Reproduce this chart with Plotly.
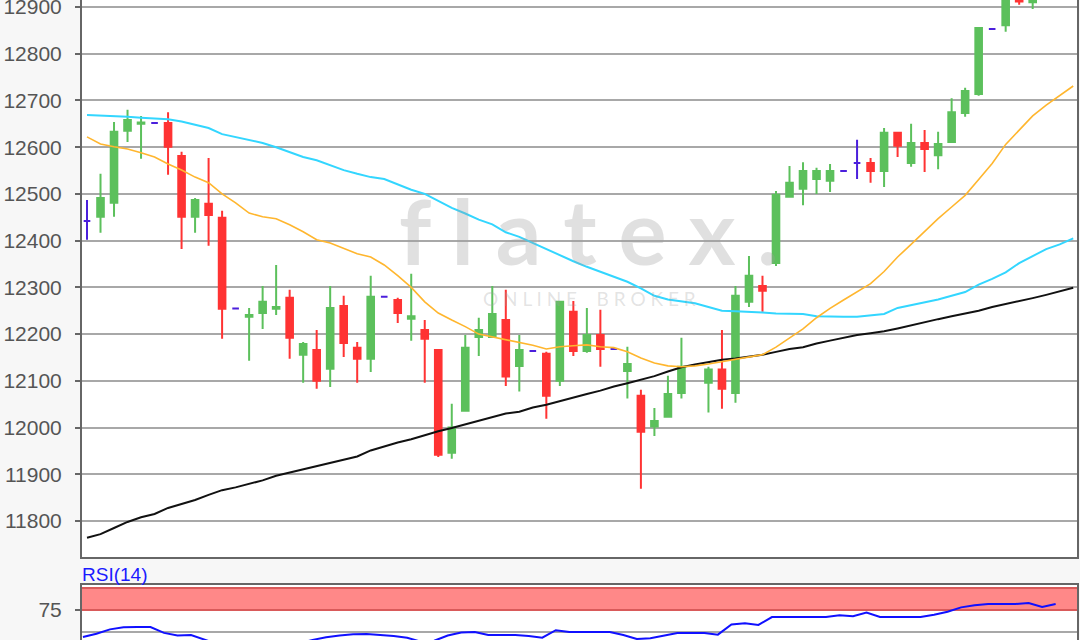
import plotly.graph_objects as go

# ---------------- data ----------------
candle_idx = list(range(71))
opens = [12442, 12451, 12481, 12635, 12650, 12652, 12652, 12581, 12451, 12479,
         12449, 12255, 12237, 12245, 12254, 12278, 12156, 12166, 12126, 12260,
         12171, 12147, 12280, 12273, 12233, 12209, 12166, 11946, 12036, 12194,
         12194, 12230, 12132, 12164, 12158, 12100, 12248, 12164, 12198, 12168,
         12121, 12068, 12002, 12023, 12074, 12134, 12096, 12124, 12074, 12269,
         12303, 12352, 12494, 12511, 12532, 12528, 12549, 12566, 12566, 12549,
         12631, 12566, 12609, 12583, 12611, 12673, 12714, 12853, 12861, 12935,
         12910]
highs = [12487, 12543, 12654, 12680, 12667, 12652, 12675, 12590, 12491, 12577,
         12464, 12255, 12256, 12303, 12348, 12295, 12183, 12209, 12303, 12282,
         12183, 12325, 12280, 12278, 12329, 12230, 12168, 12051, 12198, 12235,
         12303, 12295, 12198, 12164, 12162, 12269, 12271, 12256, 12252, 12168,
         12173, 12081, 12042, 12111, 12192, 12134, 12130, 12209, 12303, 12367,
         12325, 12506, 12560, 12568, 12556, 12564, 12549, 12616, 12577, 12641,
         12631, 12650, 12637, 12633, 12705, 12727, 12855, 12853, 12950, 12945,
         12940]
lows = [12402, 12417, 12451, 12611, 12575, 12652, 12541, 12382, 12417, 12389,
        12190, 12255, 12143, 12211, 12241, 12147, 12096, 12083, 12087, 12151,
        12096, 12119, 12280, 12224, 12186, 12096, 11937, 11933, 12036, 12153,
        12194, 12089, 12077, 12164, 12019, 12089, 12153, 12160, 12130, 12168,
        12062, 11869, 11982, 12023, 12062, 12134, 12032, 12040, 12053, 12258,
        12248, 12346, 12494, 12476, 12500, 12504, 12549, 12532, 12524, 12515,
        12579, 12558, 12547, 12553, 12609, 12665, 12710, 12853, 12847, 12905,
        12896]
closes = [12442, 12491, 12633, 12658, 12653, 12652, 12601, 12451, 12487, 12455,
          12254, 12255, 12241, 12269, 12258, 12192, 12179, 12100, 12256, 12181,
          12147, 12280, 12280, 12245, 12238, 12190, 11942, 12000, 12171, 12209,
          12243, 12109, 12166, 12164, 12068, 12269, 12164, 12198, 12168, 12168,
          12136, 11991, 12014, 12072, 12130, 12134, 12124, 12083, 12282, 12325,
          12293, 12498, 12524, 12549, 12549, 12549, 12549, 12566, 12549, 12631,
          12603, 12609, 12596, 12607, 12675, 12720, 12855, 12853, 12935, 12912,
          12925]

ma_idx = list(range(74))
ma_short = [12622, 12607, 12601, 12596, 12588, 12579, 12564, 12551, 12536, 12524,
            12500, 12481, 12459, 12451, 12447, 12434, 12419, 12402, 12395, 12384,
            12372, 12365, 12348, 12325, 12300, 12269, 12245, 12230, 12216, 12200,
            12194, 12188, 12182, 12176, 12168, 12173, 12175, 12177, 12173, 12171,
            12162, 12149, 12138, 12132, 12130, 12132, 12136, 12141, 12147, 12151,
            12156, 12172, 12192, 12211, 12235, 12255, 12273, 12290, 12308, 12334,
            12365, 12392, 12420, 12447, 12472, 12497, 12531, 12565, 12606, 12637,
            12667, 12690, 12710, 12731]
ma_mid = [12669, 12668, 12666, 12665, 12663, 12662, 12660, 12655, 12648, 12641,
          12628, 12622, 12615, 12609, 12600, 12590, 12579, 12572, 12562, 12551,
          12543, 12536, 12532, 12520, 12509, 12500, 12485, 12470, 12458, 12445,
          12435, 12418, 12408, 12395, 12382, 12368, 12356, 12344, 12333, 12322,
          12312, 12298, 12282, 12274, 12270, 12266, 12258, 12250, 12249, 12248,
          12246, 12244, 12243, 12243, 12238, 12237, 12237, 12237, 12240, 12243,
          12256, 12262, 12268, 12274, 12282, 12290, 12306, 12318, 12332, 12352,
          12367, 12382, 12392, 12405]
ma_long = [11764, 11772, 11785, 11798, 11808, 11815, 11828, 11837, 11845, 11856,
           11866, 11872, 11880, 11887, 11897, 11904, 11910, 11918, 11925, 11931,
           11938, 11951, 11960, 11968, 11975, 11984, 11992, 11999, 12007, 12015,
           12022, 12030, 12034, 12043, 12049, 12057, 12065, 12072, 12079, 12088,
           12095, 12103, 12110, 12120, 12129, 12135, 12140, 12145, 12148, 12152,
           12156, 12162, 12168, 12172, 12180, 12186, 12192, 12198, 12202, 12206,
           12212, 12219, 12225, 12232, 12238, 12244, 12250, 12258, 12264, 12270,
           12277, 12284, 12292, 12299]

rsi_idx = list(range(73))
rsi = [44.3, 48, 53, 55.5, 55.7, 55.7, 49, 46, 46.6, 42,
       36, 34, 35, 37, 38, 35, 37, 41, 44, 46,
       47.5, 47.7, 47, 45.5, 43.5, 39, 40, 46, 49.5, 50,
       46.6, 46.6, 46.6, 45.5, 43.5, 52, 50, 50, 50, 50,
       46.6, 42, 43, 46, 48.9, 48.9, 48.9, 47, 58.5, 60,
       58, 67, 67, 67, 67, 67, 69, 68, 72, 67,
       67, 67, 67, 69.5, 73, 78, 80.5, 81.8, 81.8, 81.8,
       83, 78.4, 81.8]

price_ticks = [11800, 11900, 12000, 12100, 12200, 12300, 12400, 12500, 12600, 12700, 12800, 12900]
rsi_ticks = [75]
rsi_band = (75, 100)
rsi_mid = 50

# ---------------- styling ----------------
GREEN = "#5cc05c"
RED = "#ff3333"
DOJI = "#4b1fdc"
AXIS = "#666666"
GRID = "#a8a8a8"
FONT = "Liberation Sans, Arial, sans-serif"

up = [i for i in candle_idx if closes[i] > opens[i]]
down = [i for i in candle_idx if closes[i] < opens[i]]
flat = [i for i in candle_idx if closes[i] == opens[i]]


def pick(lst, ids):
    return [lst[i] for i in ids]


fig = go.Figure()

# watermark
fig.add_annotation(text="f l a t e x .", xref="paper", yref="paper", x=0.51, y=0.64,
                   showarrow=False, font=dict(family="Lato, sans-serif", size=90,
                                              color="rgba(160,160,160,0.32)", weight="bold"))
fig.add_annotation(text="O N L I N E    B R O K E R", xref="paper", yref="paper", x=0.51, y=0.534,
                   showarrow=False, font=dict(family="Lato, sans-serif", size=19,
                                              color="rgba(160,160,160,0.30)"))


def candles(ids, inc_col, dec_col):
    return go.Candlestick(
        x=ids, open=pick(opens, ids), high=pick(highs, ids), low=pick(lows, ids), close=pick(closes, ids),
        increasing=dict(line=dict(color=inc_col, width=2), fillcolor=inc_col),
        decreasing=dict(line=dict(color=dec_col, width=2), fillcolor=dec_col),
        whiskerwidth=0, showlegend=False, hoverinfo="skip", xaxis="x", yaxis="y")


fig.add_trace(candles(up, GREEN, GREEN))
fig.add_trace(candles(down, RED, RED))
fig.add_trace(candles(flat, DOJI, DOJI))

fig.add_trace(go.Scatter(x=ma_idx, y=ma_long, mode="lines", line=dict(color="#111111", width=2),
                         showlegend=False, hoverinfo="skip", xaxis="x", yaxis="y"))
fig.add_trace(go.Scatter(x=ma_idx, y=ma_mid, mode="lines", line=dict(color="#33d6ff", width=2),
                         showlegend=False, hoverinfo="skip", xaxis="x", yaxis="y"))
fig.add_trace(go.Scatter(x=ma_idx, y=ma_short, mode="lines", line=dict(color="#ffb62e", width=1.6),
                         showlegend=False, hoverinfo="skip", xaxis="x", yaxis="y"))

fig.add_trace(go.Scatter(x=rsi_idx, y=rsi, mode="lines", line=dict(color="#1010ff", width=2),
                         showlegend=False, hoverinfo="skip", xaxis="x2", yaxis="y2"))

# RSI band and reference lines
fig.add_shape(type="rect", xref="x2 domain", yref="y2", x0=0, x1=1, y0=rsi_band[0], y1=rsi_band[1],
              fillcolor="#ff8888", line=dict(width=0), layer="below")
for lvl in rsi_band:
    fig.add_shape(type="line", xref="x2 domain", yref="y2", x0=0, x1=1, y0=lvl, y1=lvl,
                  line=dict(color="#d95a5a", width=2), layer="below")
fig.add_shape(type="line", xref="x2 domain", yref="y2", x0=0, x1=1, y0=rsi_mid, y1=rsi_mid,
              line=dict(color=GRID, width=2), layer="below")

fig.add_annotation(text="RSI(14)", xref="paper", yref="paper", x=0, y=0.1016, xanchor="left",
                   yanchor="middle", showarrow=False, xshift=-2,
                   font=dict(family=FONT, size=19, color="#1a1aff"))

XR = [-0.37, 73.28]
fig.update_layout(
    width=1080, height=640,
    margin=dict(l=82, r=3, t=0, b=0, autoexpand=False),
    paper_bgcolor="#f7f7f7", plot_bgcolor="#ffffff",
    showlegend=False,
    xaxis=dict(domain=[0, 1], range=XR, anchor="y", showgrid=False, zeroline=False, automargin=False,
               showticklabels=False, ticks="", showline=True, linecolor=AXIS, linewidth=2,
               rangeslider=dict(visible=False)),
    yaxis=dict(domain=[0.1297, 1], range=[11723, 12915], tickvals=price_ticks, tickformat="d",
               ticks="outside", automargin=False, ticklabeloverflow="allow",
               ticklen=5, tickwidth=2, tickcolor=AXIS, showgrid=True, gridcolor=GRID, gridwidth=2,
               zeroline=False, showline=True, mirror=True, linecolor=AXIS, linewidth=2,
               ticklabelstandoff=9,
               tickfont=dict(family=FONT, size=21, color="#555555")),
    xaxis2=dict(domain=[0, 1], range=[XR[0] + 0.3, XR[1] + 0.3], anchor="y2", side="top",
                automargin=False,
                showgrid=False, zeroline=False, showticklabels=False, ticks="", showline=True,
                linecolor=AXIS, linewidth=2),
    yaxis2=dict(domain=[0, 0.0859], range=[40.9, 103.4], tickvals=rsi_ticks, ticks="outside",
                automargin=False, tickformat="d", ticklabeloverflow="allow",
                ticklen=5, tickwidth=2, tickcolor=AXIS, showgrid=False, zeroline=False,
                showline=True, mirror=True, linecolor=AXIS, linewidth=2, ticklabelstandoff=9,
                tickfont=dict(family=FONT, size=21, color="#555555")),
)

fig.write_html("out.html", config={"displayModeBar": False},
               post_script="document.body.style.margin='0';document.body.style.overflow='hidden';")
